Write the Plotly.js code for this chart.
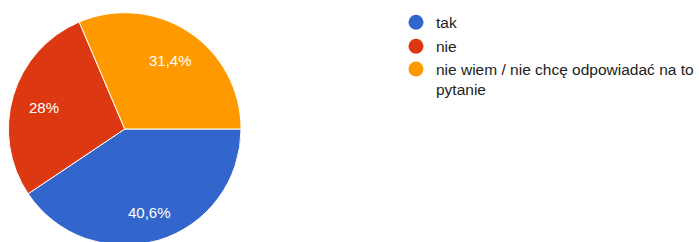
<!DOCTYPE html>
<html>
<head>
<meta charset="utf-8">
<script src="https://cdn.plot.ly/plotly-3.0.1.min.js"></script>
<style>
html,body{margin:0;padding:0;overflow:hidden;background:#fff;}
#chart{width:699px;height:250px;}
</style>
</head>
<body>
<div id="chart"></div>
<script>
const categories = ["tak", "nie", "nie wiem / nie chcę odpowiadać na to pytanie"];
const legendLabels = ["tak", "nie", "nie wiem / nie chcę odpowiadać na to<br>pytanie"];
const values = [40.6, 28, 31.4];
const colors = ["#3366cc", "#dc3912", "#ff9900"];
const valueText = values.map(v => String(v).replace('.', ',') + '%');

const W = 699, H = 250;
const cx = 126, cy = 129, r = 117.5;
const startAngle = 90; // first slice starts at 3 o'clock, clockwise
const FONT = 'Liberation Sans, Arial, sans-serif';

const traces = [{
  type: 'pie',
  labels: categories,
  values: values,
  textinfo: 'none',
  sort: false,
  direction: 'clockwise',
  rotation: startAngle,
  marker: {colors: colors, line: {color: '#ffffff', width: 1}},
  showlegend: false,
  hoverinfo: 'none',
  domain: {x: [(cx - r) / W, (cx + r) / W], y: [1 - (cy + r) / H, 1 - (cy - r) / H]}
}];

// value labels placed along each slice's bisector (computed from the data)
const total = values.reduce((a, b) => a + b, 0);
const annotations = [];
let acc = 0;
values.forEach((v, i) => {
  const mid = startAngle + (acc + v / 2) / total * 360;
  acc += v;
  const rad = mid * Math.PI / 180;
  const px = cx + 0.72 * r * Math.sin(rad);
  const py = cy - 0.72 * r * Math.cos(rad) + 2.5;
  annotations.push({
    xref: 'paper', yref: 'paper',
    x: px / W, y: 1 - py / H,
    xanchor: 'center', yanchor: 'middle',
    text: valueText[i], showarrow: false,
    font: {color: '#ffffff', size: 15, family: FONT}
  });
});

const legendTops = [5.7, 29.7, 52.4];
const legendNames = ['legend', 'legend2', 'legend3'];
categories.forEach((c, i) => {
  traces.push({
    type: 'scatter',
    mode: 'markers',
    x: [null], y: [null],
    name: legendLabels[i],
    legend: legendNames[i],
    marker: {color: colors[i], size: 15, symbol: 'circle'},
    hoverinfo: 'none'
  });
});

const layout = {
  width: W, height: H,
  margin: {l: 0, r: 0, t: 0, b: 0},
  paper_bgcolor: '#ffffff',
  plot_bgcolor: 'rgba(0,0,0,0)',
  showlegend: true,
  xaxis: {visible: false},
  yaxis: {visible: false},
  annotations: annotations
};
legendNames.forEach((ln, i) => {
  layout[ln] = {
    x: 400 / W, xanchor: 'left',
    y: 1 - legendTops[i] / H, yanchor: 'top',
    valign: 'top',
    font: {family: FONT, size: 15.5, color: '#222222'},
    bgcolor: 'rgba(0,0,0,0)',
    borderwidth: 0
  };
});

Plotly.newPlot('chart', traces, layout, {staticPlot: true, displayModeBar: false});
</script>
</body>
</html>
